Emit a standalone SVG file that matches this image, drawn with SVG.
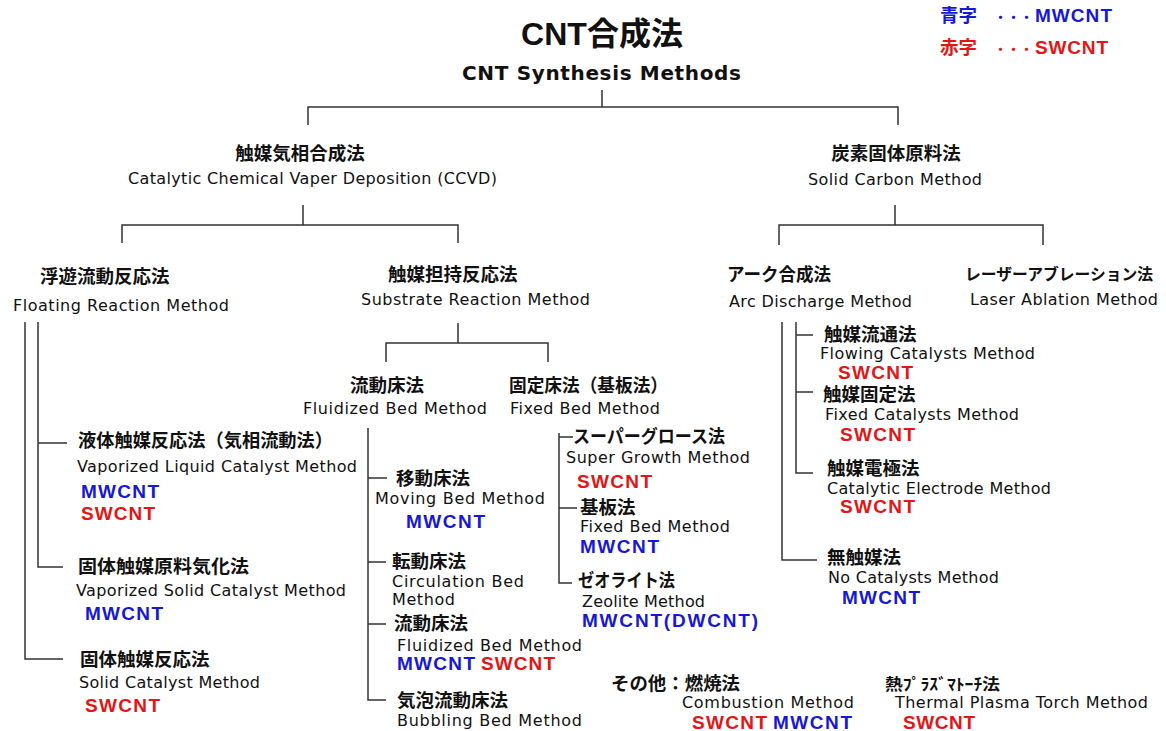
<svg xmlns="http://www.w3.org/2000/svg" width="1166" height="731" viewBox="0 0 1166 731">
<style>
.jp{font-family:"Noto Sans CJK JP","Noto Sans CJK SC",sans-serif;font-weight:bold;font-size:18.5px;fill:#111}
.en{font-family:"DejaVu Sans","Noto Sans CJK JP",sans-serif;font-size:16px;fill:#111}
.mw{font-family:"Liberation Sans","Noto Sans CJK JP",sans-serif;font-weight:bold;font-size:19px;fill:#1717d6}
.sw{font-family:"Liberation Sans","Noto Sans CJK JP",sans-serif;font-weight:bold;font-size:19px;fill:#e21616}
.dot{font-family:"Noto Sans CJK JP",sans-serif;font-weight:bold;font-size:13px}
.ln{stroke:#333;stroke-width:1.5;fill:none}
</style>
<rect width="1166" height="731" fill="#fff"/>
<g id="connectors">
<path class="ln" d="M602,90V107M308,125V107H898V125"/>
<path class="ln" d="M303,205V225M122,243V225H458V243"/>
<path class="ln" d="M895,205V225M779,245V225H1043V245"/>
<path class="ln" d="M25,322V659H63M38,322V567H63M38,443H67"/>
<path class="ln" d="M458,323V343M386,362V343H548V362"/>
<path class="ln" d="M368,428V700H386M368,478H387M368,562H386M368,624H386"/>
<path class="ln" d="M559,433V583H572M559,437H573M559,508H577"/>
<path class="ln" d="M782,322V560H817M796,322V473H813M796,335H813M796,392H813"/>
</g>
<g id="legend">
<text x="940" y="22"><tspan class="jp" style="fill:#1717d6">青字</tspan><tspan class="dot" x="994" style="fill:#1717d6">・・・</tspan><tspan class="mw" x="1035" textLength="77">MWCNT</tspan></text>
<text x="940" y="54"><tspan class="jp" style="fill:#e21616">赤字</tspan><tspan class="dot" x="994" style="fill:#e21616">・・・</tspan><tspan class="sw" x="1035" textLength="73">SWCNT</tspan></text>
</g>
<g id="title">
<text x="602" y="45" text-anchor="middle" style="font-family:'Liberation Sans','Noto Sans CJK JP',sans-serif;font-weight:bold;font-size:32px;fill:#111">CNT合成法</text>
<text x="462" y="80" textLength="279" style="font-family:'DejaVu Sans',sans-serif;font-weight:bold;font-size:20px;fill:#111">CNT Synthesis Methods</text>
</g>
<g id="ccvd">
<text class="jp" x="300" y="160" text-anchor="middle">触媒気相合成法</text>
<text class="en" x="128" y="184" textLength="369">Catalytic Chemical Vaper Deposition (CCVD)</text>
</g>
<g id="solid-carbon">
<text class="jp" x="896" y="160" text-anchor="middle">炭素固体原料法</text>
<text class="en" x="808" y="185" textLength="174">Solid Carbon Method</text>
</g>
<g id="floating">
<text class="jp" x="40" y="283">浮遊流動反応法</text>
<text class="en" x="13" y="311" textLength="216">Floating Reaction Method</text>
</g>
<g id="substrate">
<text class="jp" x="388" y="281">触媒担持反応法</text>
<text class="en" x="361" y="305" textLength="229">Substrate Reaction Method</text>
</g>
<g id="arc">
<text class="jp" x="727" y="281" textLength="104" lengthAdjust="spacingAndGlyphs">アーク合成法</text>
<text class="en" x="729" y="307" textLength="183">Arc Discharge Method</text>
</g>
<g id="laser">
<text class="jp" x="965" y="280" style="font-size:16px" textLength="188" lengthAdjust="spacingAndGlyphs">レーザーアブレーション法</text>
<text class="en" x="970" y="305" textLength="188">Laser Ablation Method</text>
</g>
<g id="fluid-bed">
<text class="jp" x="350" y="392">流動床法</text>
<text class="en" x="303" y="414" textLength="184">Fluidized Bed  Method</text>
</g>
<g id="fixed-bed">
<text class="jp" x="509" y="392" textLength="159" lengthAdjust="spacingAndGlyphs">固定床法（基板法）</text>
<text class="en" x="510" y="414" textLength="150">Fixed Bed Method</text>
</g>
<g id="liquid">
<text class="jp" x="78" y="447" textLength="255" lengthAdjust="spacingAndGlyphs">液体触媒反応法（気相流動法）</text>
<text class="en" x="77" y="472" textLength="280">Vaporized  Liquid Catalyst Method</text>
<text class="mw" x="81" y="498" textLength="78">MWCNT</text>
<text class="sw" x="81" y="520" textLength="74">SWCNT</text>
</g>
<g id="vaporized-solid">
<text class="jp" x="78" y="573" textLength="171" lengthAdjust="spacingAndGlyphs">固体触媒原料気化法</text>
<text class="en" x="76" y="596" textLength="270">Vaporized  Solid Catalyst Method</text>
<text class="mw" x="85" y="620" textLength="78">MWCNT</text>
</g>
<g id="solid-catalyst">
<text class="jp" x="80" y="666">固体触媒反応法</text>
<text class="en" x="79" y="688" textLength="181">Solid Catalyst Method</text>
<text class="sw" x="85" y="712" textLength="75">SWCNT</text>
</g>
<g id="moving-bed">
<text class="jp" x="396" y="485">移動床法</text>
<text class="en" x="375" y="504" textLength="170">Moving  Bed Method</text>
<text class="mw" x="406" y="528" textLength="79">MWCNT</text>
</g>
<g id="circulation-bed">
<text class="jp" x="392" y="568">転動床法</text>
<text class="en" x="392" y="587" textLength="132">Circulation  Bed</text>
<text class="en" x="392" y="605" textLength="63">Method</text>
</g>
<g id="fluidized-bed">
<text class="jp" x="394" y="630">流動床法</text>
<text class="en" x="397" y="651" textLength="185">Fluidized  Bed Method</text>
<text class="mw" x="397" y="670" textLength="78">MWCNT</text>
<text class="sw" x="481" y="670" textLength="74">SWCNT</text>
</g>
<g id="bubbling-bed">
<text class="jp" x="397" y="707">気泡流動床法</text>
<text class="en" x="397" y="726" textLength="185">Bubbling  Bed Method</text>
</g>
<g id="super-growth">
<text class="jp" x="573" y="443" textLength="152" lengthAdjust="spacingAndGlyphs">スーパーグロース法</text>
<text class="en" x="566" y="463" textLength="184">Super Growth Method</text>
<text class="sw" x="577" y="488" textLength="75">SWCNT</text>
</g>
<g id="kiban">
<text class="jp" x="580" y="514">基板法</text>
<text class="en" x="580" y="532" textLength="150">Fixed Bed Method</text>
<text class="mw" x="580" y="553" textLength="79">MWCNT</text>
</g>
<g id="zeolite">
<text class="jp" x="578" y="587" textLength="97" lengthAdjust="spacingAndGlyphs">ゼオライト法</text>
<text class="en" x="582" y="607" textLength="123">Zeolite Method</text>
<text class="mw" x="582" y="627" textLength="176">MWCNT(DWCNT)</text>
</g>
<g id="flowing-catalysts">
<text class="jp" x="824" y="341">触媒流通法</text>
<text class="en" x="820" y="359" textLength="215">Flowing Catalysts Method</text>
<text class="sw" x="838" y="379" textLength="75">SWCNT</text>
</g>
<g id="fixed-catalysts">
<text class="jp" x="823" y="401">触媒固定法</text>
<text class="en" x="825" y="420" textLength="194">Fixed Catalysts Method</text>
<text class="sw" x="840" y="441" textLength="75">SWCNT</text>
</g>
<g id="catalytic-electrode">
<text class="jp" x="827" y="475">触媒電極法</text>
<text class="en" x="827" y="494" textLength="224">Catalytic Electrode  Method</text>
<text class="sw" x="840" y="513" textLength="75">SWCNT</text>
</g>
<g id="no-catalysts">
<text class="jp" x="827" y="564">無触媒法</text>
<text class="en" x="828" y="583" textLength="171">No Catalysts Method</text>
<text class="mw" x="842" y="604" textLength="78">MWCNT</text>
</g>
<g id="combustion">
<text class="jp" x="611" y="690" textLength="129" lengthAdjust="spacingAndGlyphs">その他：燃焼法</text>
<text class="en" x="682" y="708" textLength="172">Combustion  Method</text>
<text class="sw" x="692" y="729" textLength="75">SWCNT</text>
<text class="mw" x="773" y="729" textLength="79">MWCNT</text>
</g>
<g id="plasma-torch">
<text class="jp" x="885" y="690" style="font-size:16px" textLength="115" lengthAdjust="spacingAndGlyphs">熱ﾌﾟﾗｽﾞﾏﾄｰﾁ法</text>
<text class="en" x="895" y="708" textLength="253">Thermal Plasma Torch Method</text>
<text class="sw" x="903" y="729" textLength="72">SWCNT</text>
</g>
</svg>
